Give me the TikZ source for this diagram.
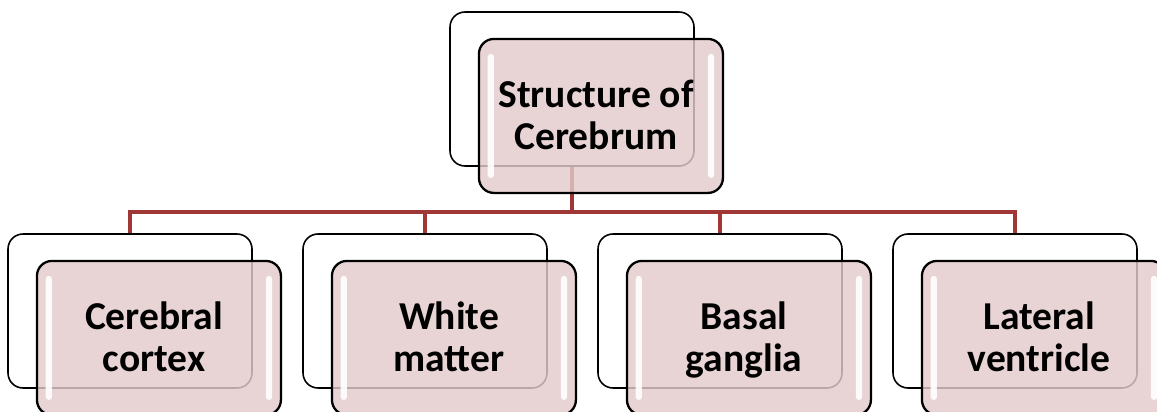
\documentclass[tikz,border=0pt]{standalone}
\usepackage{fontspec}
\setmainfont{Carlito}
\usepackage{xcolor}
\usepackage{tikz}
\usetikzlibrary{positioning}
\definecolor{linkred}{RGB}{160,55,55}
\definecolor{boxpink}{RGB}{227,203,203}

\begin{document}
\begin{tikzpicture}[x=0.02cm, y=-0.02cm,
  font=\fontsize{22.5}{24}\selectfont\bfseries,
  box/.style={rounded corners=8.5pt, minimum width=4.88cm,
              minimum height=3.08cm, inner sep=0pt},
  backbox/.style={box, draw=black, line width=0.9pt, fill=white},
  frontbox/.style={box, draw=black, line width=1.3pt,
    fill=boxpink, fill opacity=0.82,
    path picture={
      \fill[white, opacity=0.9, rounded corners=1.7pt]
        ([xshift=5pt,yshift=-8.5pt]path picture bounding box.north west)
        rectangle ([xshift=8.5pt,yshift=8.5pt]path picture bounding box.south west);
      \fill[white, opacity=0.9, rounded corners=1.7pt]
        ([xshift=-5pt,yshift=-8.5pt]path picture bounding box.north east)
        rectangle ([xshift=-8.5pt,yshift=8.5pt]path picture bounding box.south east);
    }},
  cardtext/.style={align=center, inner sep=0pt,
    execute at begin node=\strut, execute at end node=\strut},
  link/.style={draw=linkred, line width=2.8pt}]

  \useasboundingbox (0,0) rectangle (1157,412);

  % back cards
  \node[backbox] (top) at (572,89) {};
  \foreach \i/\x in {1/130, 2/425, 3/720, 4/1015}
    \node[backbox] (c\i) at (\x,311) {};

  % connectors
  \coordinate (bus) at (0,212);
  \foreach \i in {1,...,4}
    \draw[link] (top.south) -- (top.south |- bus) -| (c\i.north);

  % front cards
  \node[frontbox, below right=-2.58cm and -4.34cm of top] (topf) {};
  \foreach \i in {1,...,4}
    \node[frontbox, below right=-2.58cm and -4.34cm of c\i] (f\i) {};

  % card texts
  \node[cardtext] (ttop) at ([shift={(-2.8pt,-2.8pt)}]topf.center) {Structure of\\Cerebrum};
  \node[cardtext] (t1) at ([shift={(-2.8pt,-2.8pt)}]f1.center) {Cerebral\\cortex};
  \node[cardtext] (t2) at ([shift={(-2.8pt,-2.8pt)}]f2.center) {White\\matter};
  \node[cardtext] (t3) at ([shift={(-2.8pt,-2.8pt)}]f3.center) {Basal\\ganglia};
  \node[cardtext] (t4) at ([shift={(-2.8pt,-2.8pt)}]f4.center) {Lateral\\ventricle};
\end{tikzpicture}
\end{document}
